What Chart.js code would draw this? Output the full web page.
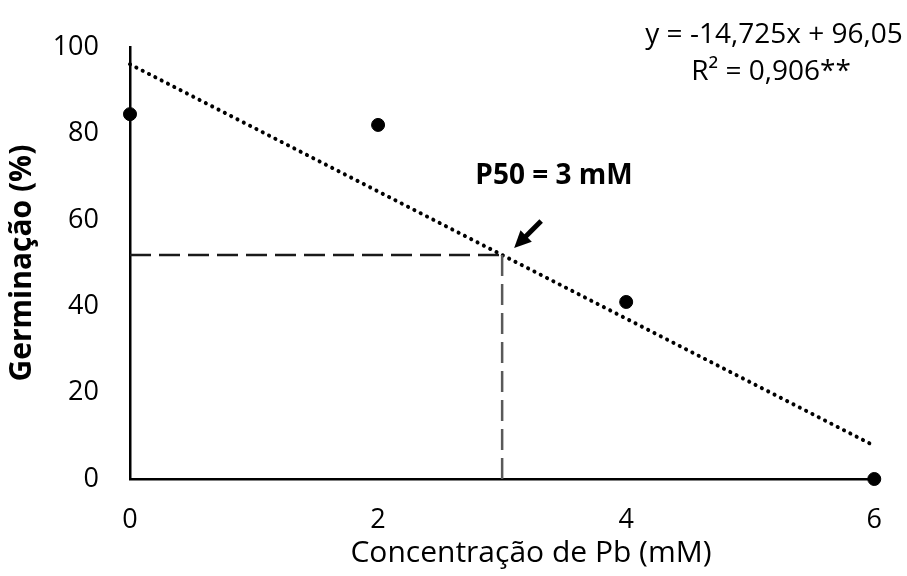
<!DOCTYPE html>
<html>
<head>
<meta charset="utf-8">
<script src="https://cdn.jsdelivr.net/npm/chart.js@4"></script>
<style>
  html, body { margin: 0; padding: 0; background: #fff; }
  #wrap { width: 907px; height: 576px; }
</style>
</head>
<body>
<div id="wrap"><canvas id="c"></canvas></div>
<script>
// dados observados
const concX = [0, 2, 4, 6];
const germY = [84.5, 82, 41, 0];

// linha de tendência (extremos)
const trendX = [0, 6];
const trendY = [96.05, 7.7];

// P50
const p50X = 3;
const p50Y = 51.875;

const xTicks = [0, 2, 4, 6];
const yTicks = [0, 20, 40, 60, 80, 100];

const xTitle = 'Concentração de Pb (mM)';
const eqLine1 = 'y = -14,725x + 96,05';
const eqLine2 = 'R² = 0,906**';
const p50Label = 'P50 = 3 mM';

const FONT = "'Open Sans', sans-serif";

const annot = {
  id: 'annot',
  afterDatasetsDraw(chart) {
    const ctx = chart.ctx;
    const xs = chart.scales.x, ys = chart.scales.y;
    const px = xs.getPixelForValue(p50X), py = ys.getPixelForValue(p50Y);
    ctx.save();
    // seta
    const tipX = px + 12, tipY = py - 7;
    const tailX = px + 39, tailY = py - 34;
    const ang = Math.atan2(tipY - tailY, tipX - tailX);
    const c = Math.cos(ang), s = Math.sin(ang);
    ctx.strokeStyle = '#000';
    ctx.fillStyle = '#000';
    ctx.lineWidth = 5;
    ctx.beginPath();
    ctx.moveTo(tailX, tailY);
    ctx.lineTo(tipX - 10 * c, tipY - 10 * s);
    ctx.stroke();
    ctx.beginPath();
    ctx.moveTo(tipX, tipY);
    ctx.lineTo(tipX - 17 * c + 8 * s, tipY - 17 * s - 8 * c);
    ctx.lineTo(tipX - 17 * c - 8 * s, tipY - 17 * s + 8 * c);
    ctx.closePath();
    ctx.fill();
    // textos
    ctx.textAlign = 'center';
    ctx.textBaseline = 'middle';
    ctx.font = 'bold 28px ' + FONT;
    ctx.fillText(p50Label, 554, 176);
    ctx.font = '28px ' + FONT;
    ctx.fillText(eqLine1, 774, 35);
    ctx.fillText(eqLine2, 771, 72);
    // título do eixo x (deslocado como no Excel)
    ctx.font = '30px ' + FONT;
    ctx.fillText(xTitle, 531, 553);
    ctx.restore();
  }
};

new Chart(document.getElementById('c'), {
  type: 'scatter',
  data: {
    datasets: [
      {
        label: 'P50 h',
        type: 'line',
        data: [{ x: 0, y: p50Y }, { x: p50X, y: p50Y }],
        borderColor: '#1a1a1a',
        borderWidth: 2.5,
        borderDash: [21, 8],
        pointRadius: 0,
        fill: false
      },
      {
        label: 'P50 v',
        type: 'line',
        data: [{ x: p50X, y: p50Y }, { x: p50X, y: 0 }],
        borderColor: '#595959',
        borderWidth: 2.5,
        borderDash: [21, 8],
        pointRadius: 0,
        fill: false
      },
      {
        label: 'Tendência',
        type: 'line',
        data: trendX.map((x, i) => ({ x, y: trendY[i] })),
        borderColor: '#000',
        borderWidth: 4,
        borderDash: [0.1, 7],
        borderCapStyle: 'round',
        pointRadius: 0,
        fill: false
      },
      {
        label: 'Germinação',
        data: concX.map((x, i) => ({ x, y: germY[i] })),
        backgroundColor: '#000',
        borderColor: '#000',
        pointRadius: 6.5,
        pointHoverRadius: 6.5
      }
    ]
  },
  options: {
    responsive: true,
    maintainAspectRatio: false,
    animation: false,
    clip: false,
    layout: { padding: { top: 47, right: 32, left: 0, bottom: 0 } },
    plugins: { legend: { display: false }, tooltip: { enabled: false } },
    scales: {
      x: {
        type: 'linear',
        min: 0, max: 6,
        afterBuildTicks: s => { s.ticks = xTicks.map(v => ({ value: v })); },
        afterFit: s => { s.height = 97; },
        grid: { display: false, drawTicks: false },
        border: { display: true, color: '#000', width: 2.5 },
        ticks: { color: '#000', padding: 25, font: { family: FONT, size: 27 } },
        title: { display: false }
      },
      y: {
        min: 0, max: 100,
        afterBuildTicks: s => { s.ticks = yTicks.map(v => ({ value: v })); },
        afterFit: s => { s.width = 130; },
        grid: { display: false, drawTicks: false },
        border: { display: true, color: '#000', width: 2.5 },
        ticks: { color: '#000', padding: 31, font: { family: FONT, size: 27 } },
        title: {
          display: true, text: 'Germinação (%)', color: '#000',
          font: { family: FONT, size: 30, weight: 'bold' }, padding: { top: 4, bottom: 4 }
        }
      }
    }
  },
  plugins: [annot]
});
</script>
</body>
</html>
